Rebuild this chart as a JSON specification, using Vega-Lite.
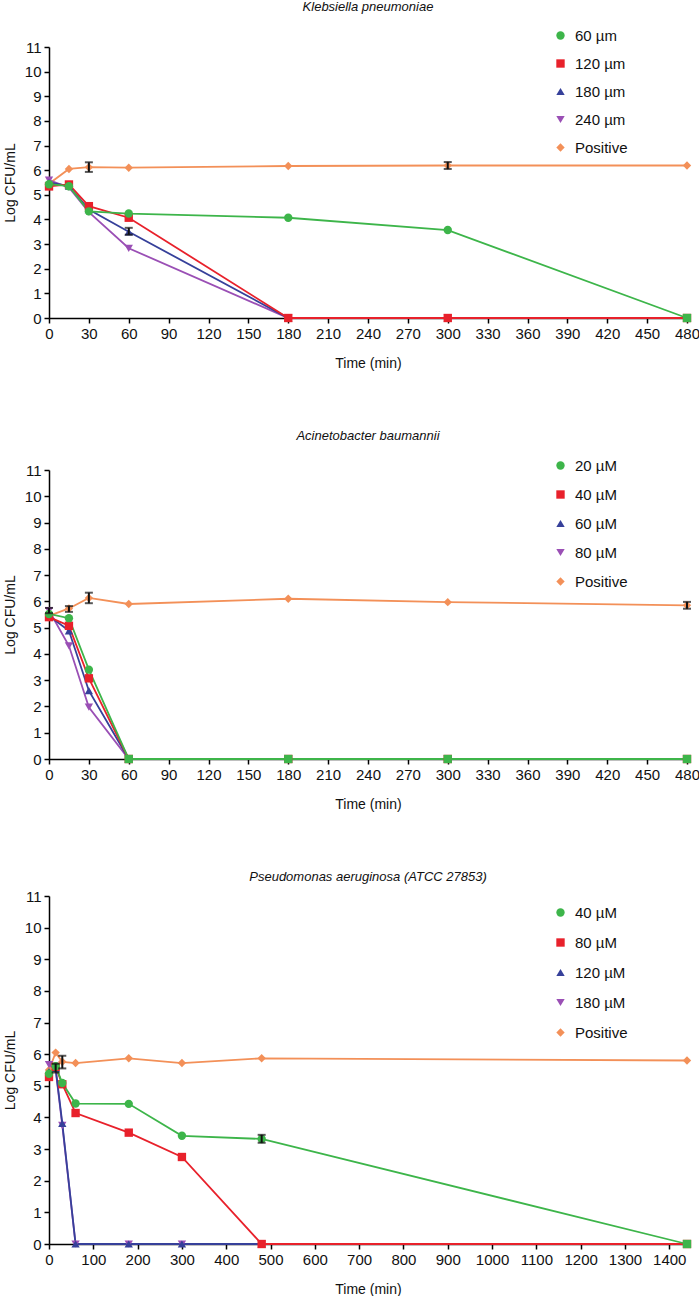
{
  "$schema": "https://vega.github.io/schema/vega-lite/v6.json",
  "padding": {"left": 3, "top": 1, "right": 0, "bottom": 0},
  "spacing": 60,
  "resolve": {"scale": {"color": "independent", "shape": "independent", "size": "independent"}, "legend": {"color": "independent", "shape": "independent", "size": "independent"}},
  "config": {
    "view": {"stroke": null},
    "font": "Liberation Sans",
    "axis": {"grid": false, "domainColor": "#000", "domainWidth": 1.5, "tickColor": "#000", "tickWidth": 1.5, "tickSize": 5, "labelFontSize": 15, "labelColor": "#111", "titleFontSize": 14, "titleFontWeight": "normal", "titleColor": "#111", "labelPadding": 3, "labelOverlap": false, "labelFlush": false, "tickCount": 50, "format": "d"},
    "axisX": {"titlePadding": 15},
    "axisY": {"titlePadding": 7},
    "title": {"fontSize": 13, "fontStyle": "italic", "fontWeight": "normal", "anchor": "middle", "color": "#111"},
    "legend": {"labelFontSize": 15, "labelColor": "#111", "symbolSize": 80, "symbolStrokeWidth": 0, "labelOffset": 7, "padding": 0, "title": null}
  },
  "datasets": {
    "pts": [
      {"panel": "A", "s": "Positive", "t": 0, "v": 5.45}, {"panel": "A", "s": "Positive", "t": 15, "v": 6.05}, {"panel": "A", "s": "Positive", "t": 30, "v": 6.12}, {"panel": "A", "s": "Positive", "t": 60, "v": 6.1}, {"panel": "A", "s": "Positive", "t": 180, "v": 6.17}, {"panel": "A", "s": "Positive", "t": 300, "v": 6.19}, {"panel": "A", "s": "Positive", "t": 480, "v": 6.19},
      {"panel": "A", "s": "240 µm", "t": 0, "v": 5.6}, {"panel": "A", "s": "240 µm", "t": 15, "v": 5.3}, {"panel": "A", "s": "240 µm", "t": 30, "v": 4.3}, {"panel": "A", "s": "240 µm", "t": 60, "v": 2.83}, {"panel": "A", "s": "240 µm", "t": 180, "v": 0}, {"panel": "A", "s": "240 µm", "t": 300, "v": 0}, {"panel": "A", "s": "240 µm", "t": 480, "v": 0},
      {"panel": "A", "s": "180 µm", "t": 0, "v": 5.5}, {"panel": "A", "s": "180 µm", "t": 15, "v": 5.35}, {"panel": "A", "s": "180 µm", "t": 30, "v": 4.4}, {"panel": "A", "s": "180 µm", "t": 60, "v": 3.5}, {"panel": "A", "s": "180 µm", "t": 180, "v": 0}, {"panel": "A", "s": "180 µm", "t": 300, "v": 0}, {"panel": "A", "s": "180 µm", "t": 480, "v": 0},
      {"panel": "A", "s": "120 µm", "t": 0, "v": 5.34}, {"panel": "A", "s": "120 µm", "t": 15, "v": 5.42}, {"panel": "A", "s": "120 µm", "t": 30, "v": 4.54}, {"panel": "A", "s": "120 µm", "t": 60, "v": 4.07}, {"panel": "A", "s": "120 µm", "t": 180, "v": 0}, {"panel": "A", "s": "120 µm", "t": 300, "v": 0}, {"panel": "A", "s": "120 µm", "t": 480, "v": 0},
      {"panel": "A", "s": "60 µm", "t": 0, "v": 5.43}, {"panel": "A", "s": "60 µm", "t": 15, "v": 5.35}, {"panel": "A", "s": "60 µm", "t": 30, "v": 4.33}, {"panel": "A", "s": "60 µm", "t": 60, "v": 4.24}, {"panel": "A", "s": "60 µm", "t": 180, "v": 4.07}, {"panel": "A", "s": "60 µm", "t": 300, "v": 3.57}, {"panel": "A", "s": "60 µm", "t": 480, "v": 0},

      {"panel": "B", "s": "Positive", "t": 0, "v": 5.45}, {"panel": "B", "s": "Positive", "t": 15, "v": 5.73}, {"panel": "B", "s": "Positive", "t": 30, "v": 6.13}, {"panel": "B", "s": "Positive", "t": 60, "v": 5.9}, {"panel": "B", "s": "Positive", "t": 180, "v": 6.1}, {"panel": "B", "s": "Positive", "t": 300, "v": 5.97}, {"panel": "B", "s": "Positive", "t": 480, "v": 5.85},
      {"panel": "B", "s": "80 µM", "t": 0, "v": 5.65}, {"panel": "B", "s": "80 µM", "t": 15, "v": 4.31}, {"panel": "B", "s": "80 µM", "t": 30, "v": 1.97}, {"panel": "B", "s": "80 µM", "t": 60, "v": 0}, {"panel": "B", "s": "80 µM", "t": 180, "v": 0}, {"panel": "B", "s": "80 µM", "t": 300, "v": 0}, {"panel": "B", "s": "80 µM", "t": 480, "v": 0},
      {"panel": "B", "s": "60 µM", "t": 0, "v": 5.45}, {"panel": "B", "s": "60 µM", "t": 15, "v": 4.88}, {"panel": "B", "s": "60 µM", "t": 30, "v": 2.6}, {"panel": "B", "s": "60 µM", "t": 60, "v": 0}, {"panel": "B", "s": "60 µM", "t": 180, "v": 0}, {"panel": "B", "s": "60 µM", "t": 300, "v": 0}, {"panel": "B", "s": "60 µM", "t": 480, "v": 0},
      {"panel": "B", "s": "40 µM", "t": 0, "v": 5.4}, {"panel": "B", "s": "40 µM", "t": 15, "v": 5.07}, {"panel": "B", "s": "40 µM", "t": 30, "v": 3.07}, {"panel": "B", "s": "40 µM", "t": 60, "v": 0}, {"panel": "B", "s": "40 µM", "t": 180, "v": 0}, {"panel": "B", "s": "40 µM", "t": 300, "v": 0}, {"panel": "B", "s": "40 µM", "t": 480, "v": 0},
      {"panel": "B", "s": "20 µM", "t": 0, "v": 5.52}, {"panel": "B", "s": "20 µM", "t": 15, "v": 5.36}, {"panel": "B", "s": "20 µM", "t": 30, "v": 3.4}, {"panel": "B", "s": "20 µM", "t": 60, "v": 0}, {"panel": "B", "s": "20 µM", "t": 180, "v": 0}, {"panel": "B", "s": "20 µM", "t": 300, "v": 0}, {"panel": "B", "s": "20 µM", "t": 480, "v": 0},

      {"panel": "C", "s": "Positive", "t": 0, "v": 5.5}, {"panel": "C", "s": "Positive", "t": 15, "v": 6.05}, {"panel": "C", "s": "Positive", "t": 30, "v": 5.76}, {"panel": "C", "s": "Positive", "t": 60, "v": 5.72}, {"panel": "C", "s": "Positive", "t": 180, "v": 5.87}, {"panel": "C", "s": "Positive", "t": 300, "v": 5.72}, {"panel": "C", "s": "Positive", "t": 480, "v": 5.87}, {"panel": "C", "s": "Positive", "t": 1440, "v": 5.8},
      {"panel": "C", "s": "180 µM", "t": 0, "v": 5.67}, {"panel": "C", "s": "180 µM", "t": 15, "v": 5.5}, {"panel": "C", "s": "180 µM", "t": 30, "v": 3.75}, {"panel": "C", "s": "180 µM", "t": 60, "v": 0}, {"panel": "C", "s": "180 µM", "t": 180, "v": 0}, {"panel": "C", "s": "180 µM", "t": 300, "v": 0}, {"panel": "C", "s": "180 µM", "t": 480, "v": 0},
      {"panel": "C", "s": "120 µM", "t": 0, "v": 5.45}, {"panel": "C", "s": "120 µM", "t": 15, "v": 5.55}, {"panel": "C", "s": "120 µM", "t": 30, "v": 3.81}, {"panel": "C", "s": "120 µM", "t": 60, "v": 0}, {"panel": "C", "s": "120 µM", "t": 180, "v": 0}, {"panel": "C", "s": "120 µM", "t": 300, "v": 0}, {"panel": "C", "s": "120 µM", "t": 480, "v": 0},
      {"panel": "C", "s": "80 µM", "t": 0, "v": 5.28}, {"panel": "C", "s": "80 µM", "t": 15, "v": 5.6}, {"panel": "C", "s": "80 µM", "t": 30, "v": 5.05}, {"panel": "C", "s": "80 µM", "t": 60, "v": 4.14}, {"panel": "C", "s": "80 µM", "t": 180, "v": 3.52}, {"panel": "C", "s": "80 µM", "t": 300, "v": 2.75}, {"panel": "C", "s": "80 µM", "t": 480, "v": 0}, {"panel": "C", "s": "80 µM", "t": 1440, "v": 0},
      {"panel": "C", "s": "40 µM", "t": 0, "v": 5.38}, {"panel": "C", "s": "40 µM", "t": 15, "v": 5.62}, {"panel": "C", "s": "40 µM", "t": 30, "v": 5.09}, {"panel": "C", "s": "40 µM", "t": 60, "v": 4.44}, {"panel": "C", "s": "40 µM", "t": 180, "v": 4.43}, {"panel": "C", "s": "40 µM", "t": 300, "v": 3.42}, {"panel": "C", "s": "40 µM", "t": 480, "v": 3.32}, {"panel": "C", "s": "40 µM", "t": 1440, "v": 0}
    ],
    "errs": [
      {"panel": "A", "t": 30, "lo": 5.93, "hi": 6.32}, {"panel": "A", "t": 300, "lo": 6.05, "hi": 6.33}, {"panel": "A", "t": 60, "lo": 3.38, "hi": 3.66},
      {"panel": "B", "t": 0, "lo": 5.55, "hi": 5.75}, {"panel": "B", "t": 15, "lo": 5.6, "hi": 5.82}, {"panel": "B", "t": 30, "lo": 5.93, "hi": 6.33}, {"panel": "B", "t": 480, "lo": 5.72, "hi": 5.98},
      {"panel": "C", "t": 30, "lo": 5.55, "hi": 5.95}, {"panel": "C", "t": 15, "lo": 5.42, "hi": 5.7}, {"panel": "C", "t": 480, "lo": 3.2, "hi": 3.45}
    ]
  },
  "vconcat": [
    {
      "title": {"text": "Klebsiella pneumoniae", "offset": 14},
      "width": 638, "height": 271,
      "layer": [
        {"data": {"name": "pts"}, "transform": [{"filter": "datum.panel === 'A'"}], "mark": {"type": "line", "strokeWidth": 1.8},
         "encoding": {"x": {"field": "t", "type": "quantitative", "scale": {"domain": [0, 480], "nice": false}, "axis": {"values": [0,30,60,90,120,150,180,210,240,270,300,330,360,390,420,450,480], "tickCount": 50, "format": "d", "labelOverlap": false, "title": "Time (min)"}},
                      "y": {"field": "v", "type": "quantitative", "scale": {"domain": [0, 11], "nice": false}, "axis": {"values": [0,1,2,3,4,5,6,7,8,9,10,11], "tickCount": 50, "format": "d", "labelOverlap": false, "title": "Log CFU/mL"}},
                      "color": {"field": "s", "type": "nominal", "scale": {"domain": ["60 µm", "120 µm", "180 µm", "240 µm", "Positive"], "range": ["#3db54a", "#e8212b", "#36409a", "#9a4fb5", "#f39058"]}, "legend": {"orient": "none", "legendX": 504, "legendY": -19, "rowPadding": 12}}}},
        {"data": {"name": "pts"}, "transform": [{"filter": "datum.panel === 'A'"}], "mark": {"type": "point", "filled": true, "opacity": 1},
         "encoding": {"x": {"field": "t", "type": "quantitative"}, "y": {"field": "v", "type": "quantitative"},
                      "color": {"field": "s", "type": "nominal", "legend": {"orient": "none", "legendX": 504, "legendY": -19, "rowPadding": 12}},
                      "shape": {"field": "s", "type": "nominal", "condition": {"test": "datum.v === 0 && datum.s === '60 µm'", "value": "square"}, "scale": {"domain": ["60 µm", "120 µm", "180 µm", "240 µm", "Positive"], "range": ["circle", "square", "triangle-up", "triangle-down", "diamond"]}, "legend": {"orient": "none", "legendX": 504, "legendY": -19, "rowPadding": 12}},
                      "size": {"field": "s", "type": "nominal", "scale": {"domain": ["60 µm", "120 µm", "180 µm", "240 µm", "Positive"], "range": [70, 70, 60, 60, 40]}, "legend": null}}},
        {"data": {"name": "errs"}, "transform": [{"filter": "datum.panel === 'A'"}], "mark": {"type": "rule", "color": "#111", "strokeWidth": 2},
         "encoding": {"x": {"field": "t", "type": "quantitative"}, "y": {"field": "lo", "type": "quantitative"}, "y2": {"field": "hi"}}},
        {"data": {"name": "errs"}, "transform": [{"filter": "datum.panel === 'A'"}], "mark": {"type": "tick", "orient": "horizontal", "color": "#111", "size": 8, "thickness": 2},
         "encoding": {"x": {"field": "t", "type": "quantitative"}, "y": {"field": "lo", "type": "quantitative"}}},
        {"data": {"name": "errs"}, "transform": [{"filter": "datum.panel === 'A'"}], "mark": {"type": "tick", "orient": "horizontal", "color": "#111", "size": 8, "thickness": 2},
         "encoding": {"x": {"field": "t", "type": "quantitative"}, "y": {"field": "hi", "type": "quantitative"}}}
      ]
    },
    {
      "title": {"text": "Acinetobacter baumannii", "offset": 15},
      "width": 638, "height": 289,
      "layer": [
        {"data": {"name": "pts"}, "transform": [{"filter": "datum.panel === 'B'"}], "mark": {"type": "line", "strokeWidth": 1.8},
         "encoding": {"x": {"field": "t", "type": "quantitative", "scale": {"domain": [0, 480], "nice": false}, "axis": {"values": [0,30,60,90,120,150,180,210,240,270,300,330,360,390,420,450,480], "tickCount": 50, "format": "d", "labelOverlap": false, "title": "Time (min)"}},
                      "y": {"field": "v", "type": "quantitative", "scale": {"domain": [0, 11], "nice": false}, "axis": {"values": [0,1,2,3,4,5,6,7,8,9,10,11], "tickCount": 50, "format": "d", "labelOverlap": false, "title": "Log CFU/mL"}},
                      "color": {"field": "s", "type": "nominal", "scale": {"domain": ["20 µM", "40 µM", "60 µM", "80 µM", "Positive"], "range": ["#3db54a", "#e8212b", "#36409a", "#9a4fb5", "#f39058"]}, "legend": {"orient": "none", "legendX": 504, "legendY": -12, "rowPadding": 13}}}},
        {"data": {"name": "pts"}, "transform": [{"filter": "datum.panel === 'B'"}], "mark": {"type": "point", "filled": true, "opacity": 1},
         "encoding": {"x": {"field": "t", "type": "quantitative"}, "y": {"field": "v", "type": "quantitative"},
                      "color": {"field": "s", "type": "nominal", "legend": {"orient": "none", "legendX": 504, "legendY": -12, "rowPadding": 13}},
                      "shape": {"field": "s", "type": "nominal", "condition": {"test": "datum.v === 0 && datum.s === '20 µM'", "value": "square"}, "scale": {"domain": ["20 µM", "40 µM", "60 µM", "80 µM", "Positive"], "range": ["circle", "square", "triangle-up", "triangle-down", "diamond"]}, "legend": {"orient": "none", "legendX": 504, "legendY": -12, "rowPadding": 13}},
                      "size": {"field": "s", "type": "nominal", "scale": {"domain": ["20 µM", "40 µM", "60 µM", "80 µM", "Positive"], "range": [70, 70, 60, 60, 40]}, "legend": null}}},
        {"data": {"name": "errs"}, "transform": [{"filter": "datum.panel === 'B'"}], "mark": {"type": "rule", "color": "#111", "strokeWidth": 2},
         "encoding": {"x": {"field": "t", "type": "quantitative"}, "y": {"field": "lo", "type": "quantitative"}, "y2": {"field": "hi"}}},
        {"data": {"name": "errs"}, "transform": [{"filter": "datum.panel === 'B'"}], "mark": {"type": "tick", "orient": "horizontal", "color": "#111", "size": 8, "thickness": 2},
         "encoding": {"x": {"field": "t", "type": "quantitative"}, "y": {"field": "lo", "type": "quantitative"}}},
        {"data": {"name": "errs"}, "transform": [{"filter": "datum.panel === 'B'"}], "mark": {"type": "tick", "orient": "horizontal", "color": "#111", "size": 8, "thickness": 2},
         "encoding": {"x": {"field": "t", "type": "quantitative"}, "y": {"field": "hi", "type": "quantitative"}}}
      ]
    },
    {
      "title": {"text": "Pseudomonas aeruginosa (ATCC 27853)", "offset": 5},
      "width": 638, "height": 348,
      "layer": [
        {"data": {"name": "pts"}, "transform": [{"filter": "datum.panel === 'C'"}], "mark": {"type": "line", "strokeWidth": 1.8},
         "encoding": {"x": {"field": "t", "type": "quantitative", "scale": {"domain": [0, 1440], "nice": false}, "axis": {"values": [0,100,200,300,400,500,600,700,800,900,1000,1100,1200,1300,1400], "tickCount": 50, "format": "d", "labelOverlap": false, "title": "Time (min)"}},
                      "y": {"field": "v", "type": "quantitative", "scale": {"domain": [0, 11], "nice": false}, "axis": {"values": [0,1,2,3,4,5,6,7,8,9,10,11], "tickCount": 50, "format": "d", "labelOverlap": false, "title": "Log CFU/mL"}},
                      "color": {"field": "s", "type": "nominal", "scale": {"domain": ["40 µM", "80 µM", "120 µM", "180 µM", "Positive"], "range": ["#3db54a", "#e8212b", "#36409a", "#9a4fb5", "#f39058"]}, "legend": {"orient": "none", "legendX": 504, "legendY": 9, "rowPadding": 14}}}},
        {"data": {"name": "pts"}, "transform": [{"filter": "datum.panel === 'C'"}], "mark": {"type": "point", "filled": true, "opacity": 1},
         "encoding": {"x": {"field": "t", "type": "quantitative"}, "y": {"field": "v", "type": "quantitative"},
                      "color": {"field": "s", "type": "nominal", "legend": {"orient": "none", "legendX": 504, "legendY": 9, "rowPadding": 14}},
                      "shape": {"field": "s", "type": "nominal", "condition": {"test": "datum.v === 0 && datum.s === '40 µM'", "value": "square"}, "scale": {"domain": ["40 µM", "80 µM", "120 µM", "180 µM", "Positive"], "range": ["circle", "square", "triangle-up", "triangle-down", "diamond"]}, "legend": {"orient": "none", "legendX": 504, "legendY": 9, "rowPadding": 14}},
                      "size": {"field": "s", "type": "nominal", "scale": {"domain": ["40 µM", "80 µM", "120 µM", "180 µM", "Positive"], "range": [70, 70, 60, 60, 40]}, "legend": null}}},
        {"data": {"name": "errs"}, "transform": [{"filter": "datum.panel === 'C'"}], "mark": {"type": "rule", "color": "#111", "strokeWidth": 2},
         "encoding": {"x": {"field": "t", "type": "quantitative"}, "y": {"field": "lo", "type": "quantitative"}, "y2": {"field": "hi"}}},
        {"data": {"name": "errs"}, "transform": [{"filter": "datum.panel === 'C'"}], "mark": {"type": "tick", "orient": "horizontal", "color": "#111", "size": 8, "thickness": 2},
         "encoding": {"x": {"field": "t", "type": "quantitative"}, "y": {"field": "lo", "type": "quantitative"}}},
        {"data": {"name": "errs"}, "transform": [{"filter": "datum.panel === 'C'"}], "mark": {"type": "tick", "orient": "horizontal", "color": "#111", "size": 8, "thickness": 2},
         "encoding": {"x": {"field": "t", "type": "quantitative"}, "y": {"field": "hi", "type": "quantitative"}}}
      ]
    }
  ]
}
